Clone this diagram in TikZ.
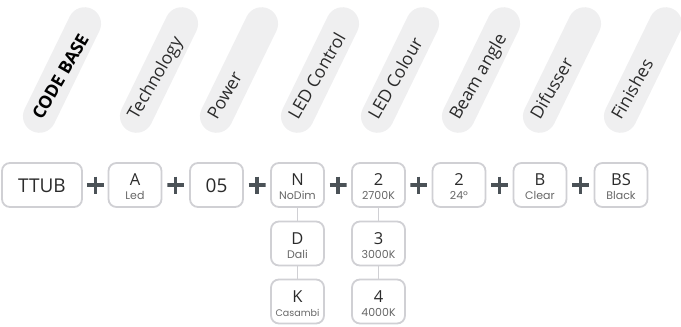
\documentclass[tikz,border=0pt]{standalone}
\usepackage{fontspec}
\setmainfont{Open Sans}
\newfontfamily\subff{Poppins}
\usetikzlibrary{calc}
\definecolor{pillgray}{HTML}{EFEFF0}
\definecolor{boxgray}{HTML}{D0D0D4}
\definecolor{plusgray}{HTML}{4B5257}
\definecolor{maintext}{HTML}{2B2B2B}
\definecolor{subtext}{HTML}{666666}
\begin{document}
\begin{tikzpicture}[x=1pt,y=-1pt,
  pill/.style={fill=pillgray, rounded corners=16.5pt, minimum width=136pt, minimum height=33pt, rotate=64, inner sep=0pt},
  hdr/.style={rotate=60, anchor=base west, font=\fontsize{17.5}{17.5}\selectfont, text=maintext, inner sep=0pt},
  optbox/.style={draw=boxgray, line width=1.8pt, rounded corners=8pt, minimum width=53pt, minimum height=44pt, inner sep=0pt},
  bigtxt/.style={anchor=base, inner sep=0pt, text=maintext, font=\fontsize{19}{19}\selectfont},
  maintxt/.style={anchor=base, inner sep=0pt, text=maintext, font=\fontsize{16.5}{16.5}\selectfont},
  subtxt/.style={anchor=base, inner sep=0pt, text=subtext, font=\subff\fontsize{11}{11}\selectfont},
  plus/.style={minimum size=17pt, inner sep=0pt, path picture={\draw[plusgray, line width=3.4pt] (path picture bounding box.north) -- (path picture bounding box.south) (path picture bounding box.west) -- (path picture bounding box.east);}},
  conn/.style={draw=boxgray, line width=1.5pt}
]
\useasboundingbox (0,0) rectangle (681,327);

% header pills
\foreach \cx/\nm/\txt/\bf in {62/h1/CODE BASE/1, 159/h2/Technology/0, 239/h3/Power/0, 320/h4/LED Control/0, 400/h5/LED Colour/0, 481/h6/Beam angle/0, 562/h7/Difusser/0, 643/h8/Finishes/0}{
  \node[pill] (\nm) at (\cx,70) {};
  \ifnum\bf=1
    \node[hdr, font=\fontsize{17.5}{17.5}\selectfont\bfseries, text=black] (\nm t) at (\cx-20,121) {\txt};
  \else
    \node[hdr] (\nm t) at (\cx-22,121) {\txt};
  \fi
}

% main row
\node[optbox, minimum width=80pt] (ttub) at (42,185) {};
\node[bigtxt] (ttubt) at ([yshift=-7.5pt]ttub.center) {TTUB};

\node[optbox] (a) at (135,185) {};
\node[maintxt] (at) at ([yshift=-0.5pt]a.center) {A};
\node[subtxt] (as) at ([yshift=-14.5pt]a.center) {Led};

\node[optbox] (p) at (216.5,185) {};
\node[bigtxt] (pt) at ([yshift=-7.5pt]p.center) {05};

\node[optbox] (n) at (297.5,185) {};
\node[maintxt] (nt) at ([yshift=-0.5pt]n.center) {N};
\node[subtxt] (ns) at ([yshift=-14.5pt]n.center) {NoDim};

\node[optbox] (d) at (297.5,243.5) {};
\node[maintxt] (dt) at ([yshift=-0.5pt]d.center) {D};
\node[subtxt] (ds) at ([yshift=-14.5pt]d.center) {Dali};

\node[optbox] (k) at (297.5,301.5) {};
\node[maintxt] (kt) at ([yshift=-0.5pt]k.center) {K};
\node[subtxt, font=\subff\fontsize{9.5}{9.5}\selectfont] (ks) at ([yshift=-14.5pt]k.center) {Casambi};

\node[optbox] (c2) at (378.5,185) {};
\node[maintxt] (c2t) at ([yshift=-0.5pt]c2.center) {2};
\node[subtxt] (c2s) at ([yshift=-14.5pt]c2.center) {2700K};

\node[optbox] (c3) at (378.5,243.5) {};
\node[maintxt] (c3t) at ([yshift=-0.5pt]c3.center) {3};
\node[subtxt] (c3s) at ([yshift=-14.5pt]c3.center) {3000K};

\node[optbox] (c4) at (378.5,301.5) {};
\node[maintxt] (c4t) at ([yshift=-0.5pt]c4.center) {4};
\node[subtxt] (c4s) at ([yshift=-14.5pt]c4.center) {4000K};

\node[optbox] (ba) at (459,185) {};
\node[maintxt] (bat) at ([yshift=-0.5pt]ba.center) {2};
\node[subtxt] (bas) at ([yshift=-14.5pt]ba.center) {24º};

\node[optbox] (df) at (540,185) {};
\node[maintxt] (dft) at ([yshift=-0.5pt]df.center) {B};
\node[subtxt] (dfs) at ([yshift=-14.5pt]df.center) {Clear};

\node[optbox] (fi) at (621,185) {};
\node[maintxt] (fit) at ([yshift=-0.5pt]fi.center) {BS};
\node[subtxt] (fis) at ([yshift=-14.5pt]fi.center) {Black};

% plus signs
\node[plus] (p1) at ($(ttub.east)!0.5!(a.west)$) {};
\node[plus] (p2) at ($(a.east)!0.5!(p.west)$) {};
\node[plus] (p3) at ($(p.east)!0.5!(n.west)$) {};
\node[plus] (p4) at ($(n.east)!0.5!(c2.west)$) {};
\node[plus] (p5) at ($(c2.east)!0.5!(ba.west)$) {};
\node[plus] (p6) at ($(ba.east)!0.5!(df.west)$) {};
\node[plus] (p7) at ($(df.east)!0.5!(fi.west)$) {};

% connectors
\draw[conn] (n.south) -- (d.north);
\draw[conn] (d.south) -- (k.north);
\draw[conn] (c2.south) -- (c3.north);
\draw[conn] (c3.south) -- (c4.north);
\end{tikzpicture}
\end{document}
